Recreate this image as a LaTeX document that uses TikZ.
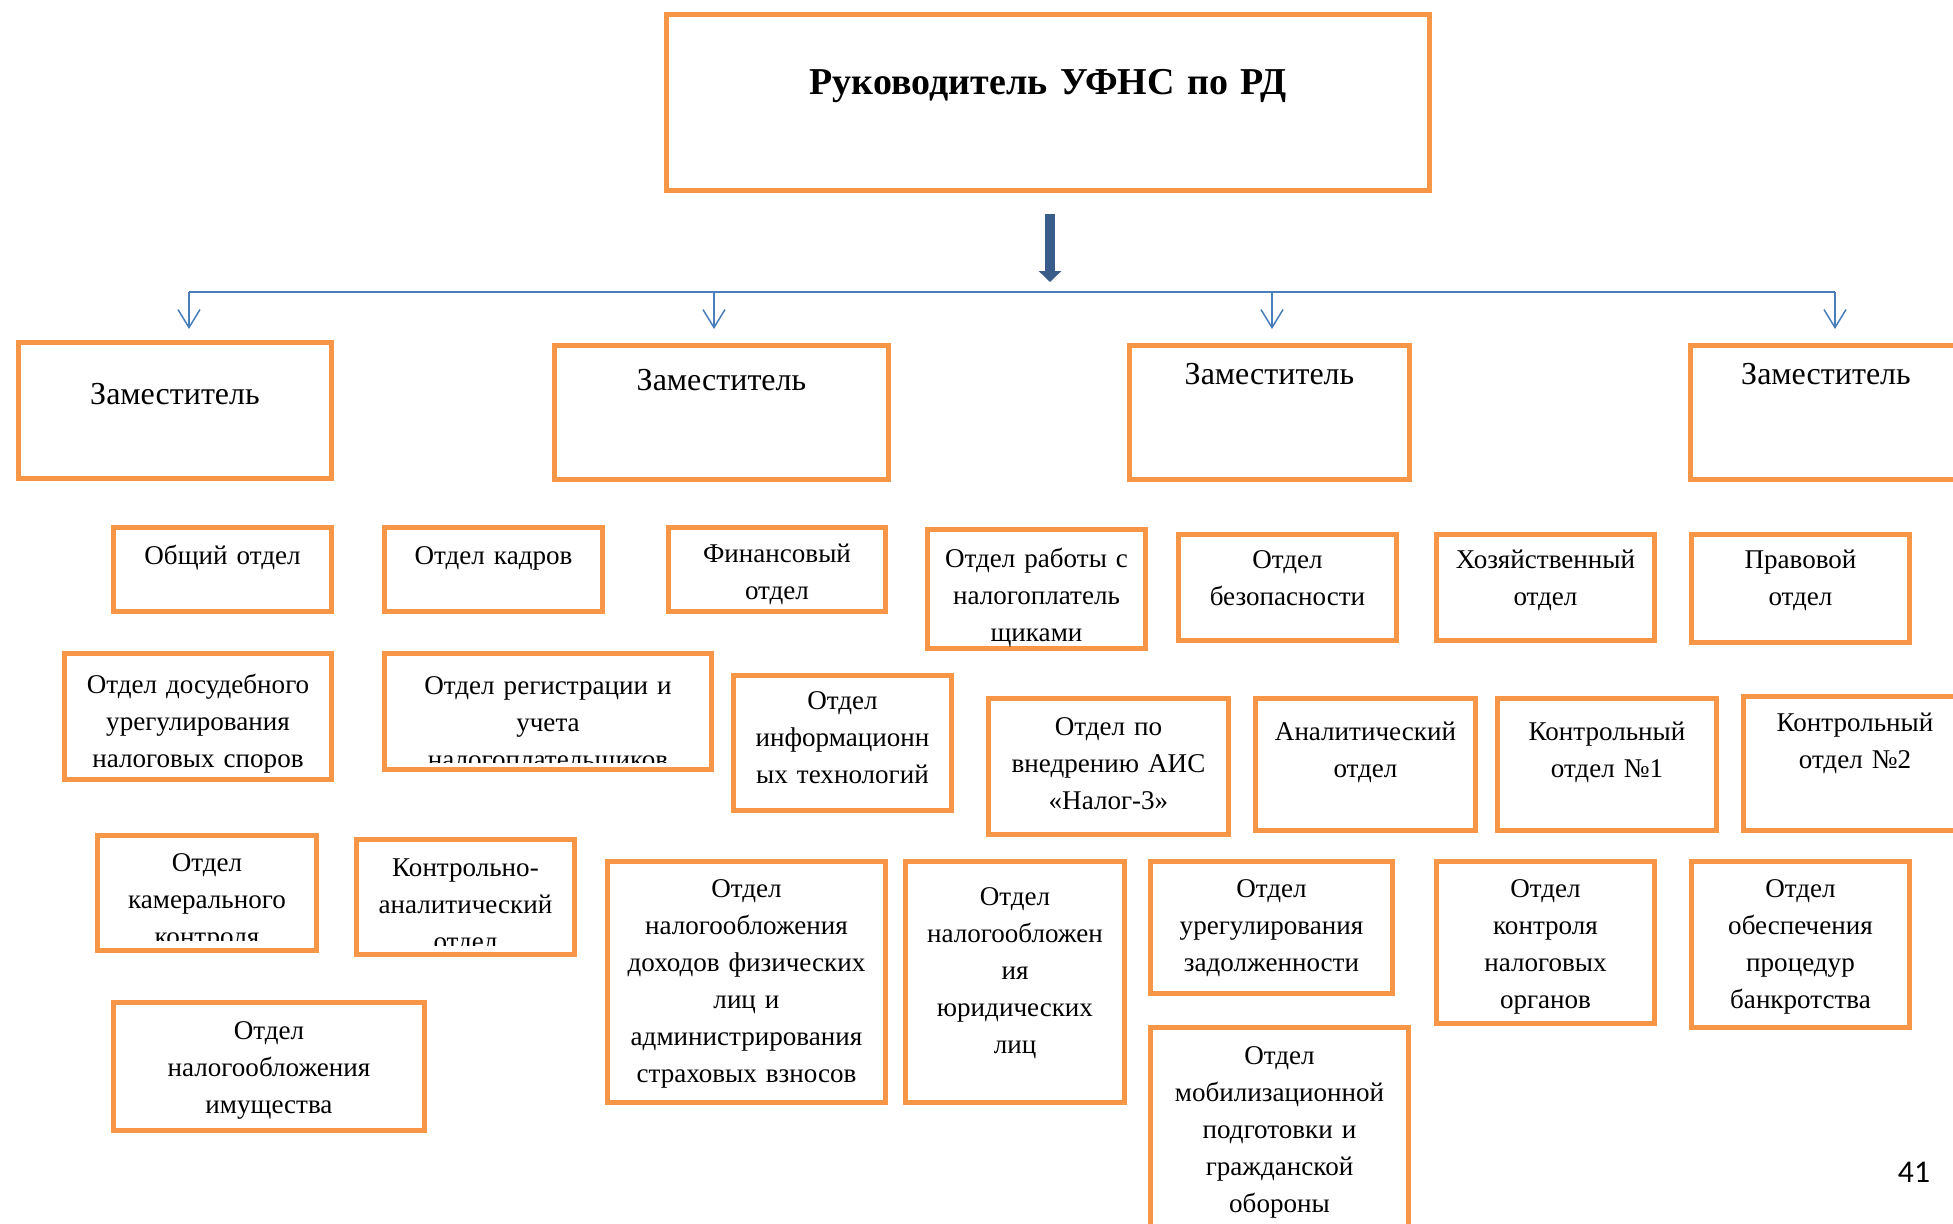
\documentclass[tikz,border=0pt]{standalone}
\usepackage{fontspec}
\setmainfont{Liberation Serif}
\newfontfamily\pagefont{Carlito}
\usetikzlibrary{arrows.meta}
\definecolor{boxorange}{HTML}{F79646}
\definecolor{linkblue}{HTML}{4A7EBB}
\definecolor{darkblue}{HTML}{385D8A}
\tikzstyle{orgbox} = [rectangle, draw=boxorange, line width=0.05cm, inner sep=0pt, outer sep=0pt, align=center, anchor=north]
\tikzstyle{headbox} = [orgbox, font=\fontsize{10.8}{13}\selectfont\bfseries]
\tikzstyle{deputy} = [orgbox, font=\fontsize{9.1}{11}\selectfont]
\tikzstyle{dept} = [orgbox, font=\fontsize{7.7}{10.5}\selectfont]
\tikzstyle{boxline} = [draw=boxorange, line width=0.05cm]
\tikzstyle{mainarrow} = [darkblue, line width=0.10cm, -{Triangle[length=0.11cm, width=0.22cm]}]
\tikzstyle{busline} = [linkblue, line width=0.022cm]
\tikzstyle{subarrow} = [linkblue, line width=0.015cm, -{Straight Barb[length=0.18cm, width=0.22cm]}]
\begin{document}
\begin{tikzpicture}[x=0.01cm, y=-0.01cm]
\useasboundingbox (0,0) rectangle (1953,1223);
% руководитель
\node[headbox, text width=7.63cm, text height=0.795cm, text depth=0.965cm] (head) at (1048,14.5) {Руководитель УФНС по РД};
% заместители
\node[deputy, text width=3.13cm, text height=0.62cm, text depth=0.74cm] (dep1) at (175,342.5) {Заместитель};
\node[deputy, text width=3.34cm, text height=0.45cm, text depth=0.89cm] (dep2) at (721.5,345.5) {Заместитель};
\node[deputy, text width=2.80cm, text height=0.39cm, text depth=0.95cm] (dep3) at (1269.5,345.5) {Заместитель};
\node[deputy, text width=2.71cm, text height=0.39cm, text depth=0.95cm] (dep4) at (1826,345.5) {Заместитель};
% стрелки
\coordinate (busL) at (189,292);
\coordinate (bus2) at (714,292);
\coordinate (bus3) at (1272,292);
\coordinate (busR) at (1835,292);
\draw[mainarrow, shorten <=0.235cm, shorten >=0.10cm] ([xshift=0.02cm]head.south) -- ([xshift=0.02cm]head.south |- busL);
\draw[busline] (busL) -- (busR);
\draw[subarrow, shorten >=0.135cm] (busL) -- (busL |- dep1.north);
\draw[subarrow, shorten >=0.165cm] (bus2) -- (bus2 |- dep2.north);
\draw[subarrow, shorten >=0.165cm] (bus3) -- (bus3 |- dep3.north);
\draw[subarrow, shorten >=0.165cm] (busR) -- (busR |- dep4.north);
% отделы, первый ряд
\node[dept, text width=2.18cm, text height=0.37cm, text depth=0.47cm] (obsh) at (222.5,527.5) {Общий отдел};
\node[dept, text width=2.18cm, text height=0.37cm, text depth=0.47cm] (kadr) at (493.5,527.5) {Отдел кадров};
\node[dept, text width=2.17cm, text height=0.35cm, text depth=0.49cm] (fin) at (777,527.5) {Финансовый\\ отдел};
\node[dept, text width=2.18cm, text height=0.38cm, text depth=0.81cm] (rabot) at (1036.5,529.5) {Отдел работы с\\ налогоплатель\\ щиками};
\node[dept, text width=2.18cm, text height=0.34cm, text depth=0.72cm] (bezop) at (1287.5,534.5) {Отдел\\ безопасности};
\node[dept, text width=2.18cm, text height=0.34cm, text depth=0.72cm] (hoz) at (1545.5,534.5) {Хозяйственный\\ отдел};
\node[dept, text width=2.18cm, text height=0.34cm, text depth=0.74cm] (prav) at (1800.5,534.5) {Правовой\\ отдел};
% второй ряд
\node[dept, text width=2.67cm, text height=0.40cm, text depth=0.86cm] (dosud) at (198,653.5) {Отдел досудебного\\ урегулирования\\ налоговых споров};
\begin{scope}
\clip (370,640) rectangle (725,762);
\node[dept, text width=3.27cm, text height=0.41cm, text depth=0.75cm] (regist) at (548,653.5) {Отдел регистрации и\\ учета\\ налогоплательщиков};
\end{scope}
\draw[boxline] (regist.north west) rectangle (regist.south east);
\node[dept, text width=2.18cm, text height=0.34cm, text depth=1.01cm] (inform) at (842.5,675.5) {Отдел\\ информационн\\ ых технологий};
\node[dept, text width=2.40cm, text height=0.37cm, text depth=0.99cm] (ais) at (1108.5,698.5) {Отдел по\\ внедрению АИС\\ «Налог-3»};
\node[dept, text width=2.20cm, text height=0.42cm, text depth=0.90cm] (analit) at (1365.5,698.5) {Аналитический\\ отдел};
\node[dept, text width=2.19cm, text height=0.42cm, text depth=0.90cm] (kontr1) at (1607,698.5) {Контрольный\\ отдел №1};
\node[dept, text width=2.23cm, text height=0.35cm, text depth=0.99cm] (kontr2) at (1855,696.5) {Контрольный\\ отдел №2};
% третий ряд
\begin{scope}
\clip (85,820) rectangle (330,940);
\node[dept, text width=2.19cm, text height=0.36cm, text depth=0.79cm] (kamer) at (207,835.5) {Отдел\\ камерального\\ контроля};
\end{scope}
\draw[boxline] (kamer.north west) rectangle (kamer.south east);
\begin{scope}
\clip (345,825) rectangle (590,945);
\node[dept, text width=2.18cm, text height=0.37cm, text depth=0.78cm] (kanalit) at (465.5,839.5) {Контрольно-\\ аналитический\\ отдел};
\end{scope}
\draw[boxline] (kanalit.north west) rectangle (kanalit.south east);
\node[dept, text width=2.78cm, text height=0.36cm, text depth=2.05cm] (fizlic) at (746.5,861.5) {Отдел\\ налогообложения\\ доходов физических\\ лиц и\\ администрирования\\ страховых взносов};
\node[dept, text width=2.19cm, text height=0.44cm, text depth=1.97cm] (yurlic) at (1015,861.5) {Отдел\\ налогообложен\\ ия\\ юридических\\ лиц};
\node[dept, text width=2.42cm, text height=0.36cm, text depth=0.96cm] (zadol) at (1271.5,861.5) {Отдел\\ урегулирования\\ задолженности};
\node[dept, text width=2.18cm, text height=0.36cm, text depth=1.26cm] (kontrno) at (1545.5,861.5) {Отдел\\ контроля\\ налоговых\\ органов};
\node[dept, text width=2.18cm, text height=0.36cm, text depth=1.30cm] (bankr) at (1800.5,861.5) {Отдел\\ обеспечения\\ процедур\\ банкротства};
\node[dept, text width=3.11cm, text height=0.37cm, text depth=0.91cm] (imush) at (269,1002.5) {Отдел\\ налогообложения\\ имущества};
\node[dept, text width=2.58cm, text height=0.37cm, text depth=1.755cm] (mobil) at (1279.5,1027.5) {Отдел\\ мобилизационной\\ подготовки и\\ гражданской\\ обороны};
% номер страницы
\node[font=\pagefont\fontsize{9}{11}\selectfont] (pagenum) at (1914,1172) {41};
\end{tikzpicture}
\end{document}
